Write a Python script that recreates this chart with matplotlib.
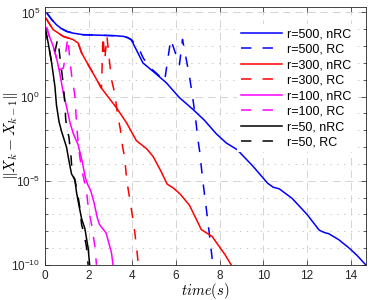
import numpy as np
import matplotlib
matplotlib.use("Agg")
import matplotlib.pyplot as plt

# values (x in seconds, y as log10 of the error)
r500_nrc_t = [0.1, 0.3, 0.53, 0.75, 0.99, 1.3, 1.75, 2.5, 3.2, 3.6, 3.8, 3.96, 4.2, 4.49, 5.0,
              5.56, 6.16, 6.77, 7.3, 7.84, 8.3, 8.8, 9.5, 10.2, 10.45, 10.73, 11.32, 12.0, 12.56,
              12.8, 13.0, 13.45, 13.93, 14.3, 14.69]
r500_nrc_e = [4.95, 4.6, 4.27, 4.05, 3.88, 3.77, 3.68, 3.65, 3.62, 3.58, 3.5, 3.36, 2.75, 2.0, 1.45,
              0.82, -0.06, -0.75, -1.4, -2.2, -2.75, -3.15, -4.1, -5.15, -5.38, -5.48, -6.05, -7.0, -7.94,
              -8.08, -8.15, -8.5, -9.0, -9.45, -10.0]

r500_rc_t = [0.1, 0.3, 0.53, 0.75, 0.99, 1.3, 1.75, 2.5, 3.2, 3.6, 3.8, 3.96, 4.15, 4.34, 4.5,
             4.79, 5.1, 5.48, 5.76, 6.16, 6.3, 6.62, 6.76, 6.9, 7.0, 7.08, 7.23, 7.45, 7.55, 7.69]
r500_rc_e = [4.95, 4.6, 4.27, 4.05, 3.88, 3.77, 3.68, 3.65, 3.62, 3.58, 3.5, 3.39, 3.1, 2.75, 2.3,
             1.75, 1.4, 0.92, 3.4, 1.9, 3.4, 1.2, 0.0, -1.3, -2.5, -3.2, -5.0, -7.3, -8.4, -10.0]

r300_nrc_t = [0.05, 0.38, 0.84, 1.29, 1.52, 1.68, 1.98, 2.28, 2.59, 3.27, 3.73, 4.19, 4.66, 4.95,
              5.3, 5.6, 5.9, 6.2, 6.62, 6.9, 7.16, 7.4, 7.65, 7.95, 8.25, 8.53]
r300_nrc_e = [4.65, 3.98, 3.58, 3.39, 3.19, 2.6, 1.9, 1.22, 0.5, -0.65, -1.54, -2.62, -3.1, -3.55,
              -4.4, -5.2, -5.45, -5.8, -6.46, -7.2, -7.9, -8.1, -8.3, -8.85, -9.4, -10.0]

r300_rc_t = [0.05, 0.38, 0.84, 1.29, 1.52, 1.68, 1.98, 2.28, 2.59, 2.66, 2.74, 2.84, 2.95, 3.05,
             3.2, 3.33, 3.45, 3.56, 3.65, 3.75, 3.9, 4.02, 4.1, 4.2, 4.28]
r300_rc_e = [4.65, 3.98, 3.58, 3.39, 3.19, 2.6, 1.9, 1.22, 0.5, 3.6, 2.2, 3.6, 2.2, 1.0,
             0.2, -1.1, -1.9, -3.0, -3.6, -5.0, -6.2, -7.2, -7.9, -9.0, -10.0]

r100_nrc_t = [0.08, 0.2, 0.38, 0.55, 0.68, 0.84, 1.0, 1.14, 1.3, 1.52, 1.7, 1.85, 1.95, 2.1, 2.25,
              2.4, 2.5, 2.62, 2.8, 2.95, 3.05, 3.12]
r100_nrc_e = [4.1, 3.6, 3.0, 2.2, 1.4, 0.25, -0.65, -1.5, -2.2, -2.85, -3.8, -4.8, -5.2, -5.6, -6.3,
              -7.2, -7.6, -7.8, -8.1, -8.8, -9.3, -10.0]

r100_rc_t = [0.08, 0.2, 0.38, 0.55, 0.68, 0.85, 1.05, 1.13, 1.22, 1.37, 1.45, 1.5, 1.6, 1.7, 1.8,
             1.9, 1.96, 2.05, 2.15, 2.22, 2.3, 2.36]
r100_rc_e = [4.1, 3.6, 3.0, 2.2, 1.6, 1.7, 3.5, 2.4, 1.3, 0.1, -1.6, -2.4, -3.6, -4.4, -5.0,
             -5.5, -6.3, -7.0, -7.7, -8.3, -9.0, -10.0]

r50_nrc_t = [0.02, 0.15, 0.31, 0.46, 0.53, 0.65, 0.76, 0.99, 1.1, 1.22, 1.37, 1.45, 1.55, 1.68,
             1.83, 1.98, 2.05]
r50_nrc_e = [4.0, 3.2, 2.0, 0.6, -0.5, -1.5, -2.05, -3.0, -3.8, -4.6, -4.9, -5.7, -6.4, -7.25,
             -7.84, -9.0, -10.0]

r50_rc_t = [0.02, 0.15, 0.3, 0.42, 0.58, 0.65, 0.72, 0.8, 0.87, 0.92, 0.95, 1.0, 1.1, 1.15, 1.2,
            1.25, 1.38, 1.48, 1.6, 1.68, 1.8, 1.9, 1.98]
r50_rc_e = [4.0, 3.2, 2.1, 2.4, 3.4, 2.8, 2.0, 1.2, 0.3, -0.5, -1.3, -1.85, -2.4, -3.0, -3.6,
            -4.6, -5.0, -5.6, -6.6, -7.6, -8.2, -8.9, -10.0]

series = [
    ("r=500, nRC", r500_nrc_t, r500_nrc_e, "#0000ff", "-"),
    ("r=500, RC", r500_rc_t, r500_rc_e, "#0000ff", "--"),
    ("r=300, nRC", r300_nrc_t, r300_nrc_e, "#ff0000", "-"),
    ("r=300, RC", r300_rc_t, r300_rc_e, "#ff0000", "--"),
    ("r=100, nRC", r100_nrc_t, r100_nrc_e, "#ff00ff", "-"),
    ("r=100, RC", r100_rc_t, r100_rc_e, "#ff00ff", "--"),
    ("r=50, nRC", r50_nrc_t, r50_nrc_e, "#000000", "-"),
    ("r=50, RC", r50_rc_t, r50_rc_e, "#000000", "--"),
]

plt.rcParams["font.family"] = ["Liberation Sans", "DejaVu Sans"]
plt.rcParams["mathtext.fontset"] = "cm"
plt.rcParams["lines.scale_dashes"] = False

fig = plt.figure(figsize=(3.74, 3.0), dpi=100)
ax = fig.add_axes([0.12, 0.117, 0.8586, 0.861])

for label, t, e, color, ls in series:
    line, = ax.plot(t, 10.0 ** np.array(e), color=color, lw=1.1, label=label)
    if ls == "--":
        line.set_dashes((7.5, 8))

ax.set_yscale("log")
ax.set_xlim(0, 14.7)
ax.set_ylim(1e-10, 10 ** 5.35)
ax.set_xticks(np.arange(0, 15, 2))
ax.set_yticks([1e-10, 1e-5, 1e0, 1e5])
ax.yaxis.set_minor_locator(matplotlib.ticker.FixedLocator(
    [10.0 ** k for k in range(-10, 6) if k % 5 != 0]))
ax.yaxis.set_minor_formatter(matplotlib.ticker.NullFormatter())

ax.grid(True, which="major", color="#d4d4d4", lw=0.7, ls=(0, (5.5, 3.5)))
ax.grid(True, which="minor", axis="y", color="#c8c8c8", lw=0.7, ls=(0, (1, 4)))
ax.set_axisbelow(True)

ax.tick_params(which="both", direction="in", top=True, right=True,
               colors="#262626", labelsize=8.5, width=0.5)
ax.tick_params(which="major", length=3.5, pad=3.5)
ax.tick_params(which="minor", length=2)
for s in ax.spines.values():
    s.set_color("#262626")
    s.set_linewidth(0.6)

ax.set_xlabel(r"$time(s)$", fontsize=10.5)
ax.set_ylabel(r"$\|X_k - X_{k-1}\|$", fontsize=11)
ax.xaxis.set_label_coords(0.5, -0.064)
ax.yaxis.set_label_coords(-0.076, 0.5)

leg = ax.legend(loc="upper right", bbox_to_anchor=(0.985, 0.955), fontsize=9,
                handlelength=3.3, handletextpad=0.4, labelspacing=0.28,
                borderpad=0.3, fancybox=False, framealpha=1.0)
leg.get_frame().set_edgecolor("white")
leg.get_frame().set_linewidth(0)

fig.savefig("out.png", dpi=100)
